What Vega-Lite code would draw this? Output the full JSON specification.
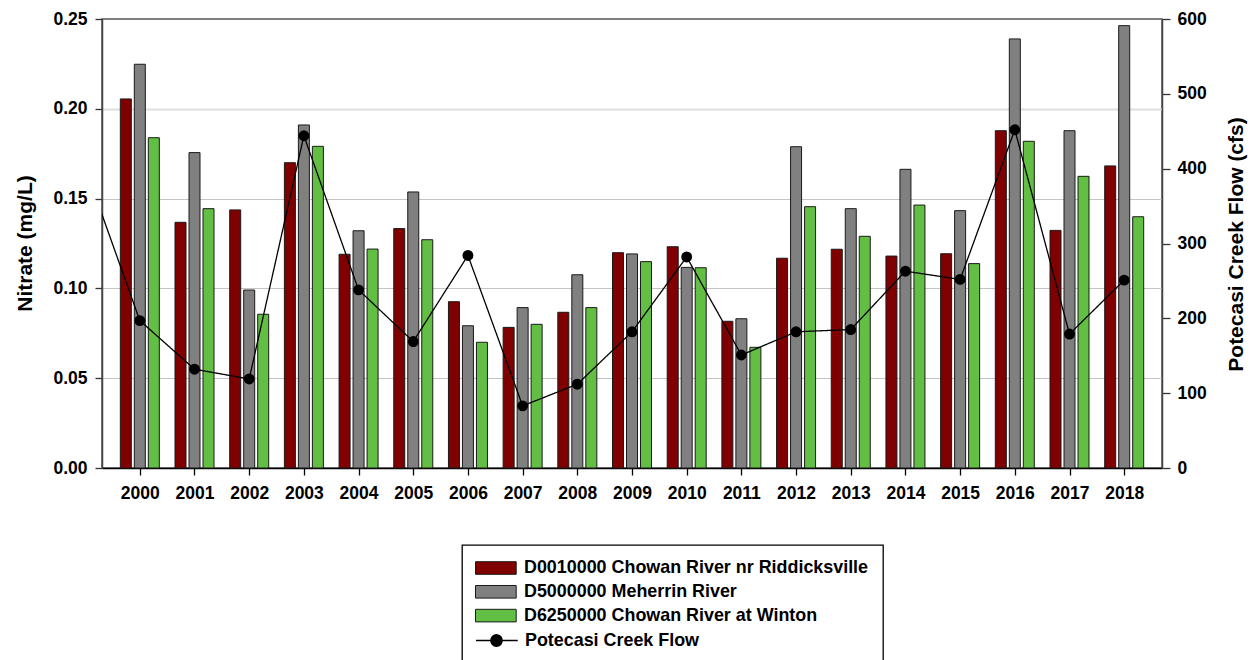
{
  "$schema": "https://vega.github.io/schema/vega-lite/v6.json",
  "width": 1060,
  "height": 449,
  "autosize": {"type": "none"},
  "padding": {"left": 102, "top": 19, "right": 95, "bottom": 192},
  "background": "white",
  "config": {
    "font": "Liberation Sans",
    "view": {"stroke": "#555", "strokeWidth": 1.5},
    "axis": {
      "labelFont": "Liberation Sans", "labelFontWeight": "bold", "labelFontSize": 17.5, "labelColor": "black",
      "titleFont": "Liberation Sans", "titleFontWeight": "bold", "titleFontSize": 21, "titleColor": "black",
      "tickColor": "#333", "domainColor": "#444", "domainWidth": 1.5, "tickWidth": 1.3
    },
    "legend": {
      "orient": "none", "legendX": 360, "padding": 14, "symbolSize": 289, "labelFont": "Liberation Sans",
      "labelFontSize": 17.9, "labelFontWeight": "bold", "labelColor": "black", "rowPadding": 5.8,
      "labelOffset": 30, "labelLimit": 600, "symbolOpacity": 1, "strokeWidth": 1.3
    }
  },
  "data": {"values": [
    {"year": 1999, "flow": 402},
    {"year": 2000, "riddicksville": 0.2055, "meherrin": 0.2248, "winton": 0.1839, "flow": 197},
    {"year": 2001, "riddicksville": 0.1368, "meherrin": 0.1756, "winton": 0.1444, "flow": 132},
    {"year": 2002, "riddicksville": 0.1437, "meherrin": 0.0991, "winton": 0.0856, "flow": 119},
    {"year": 2003, "riddicksville": 0.1700, "meherrin": 0.1910, "winton": 0.1791, "flow": 444},
    {"year": 2004, "riddicksville": 0.1190, "meherrin": 0.1321, "winton": 0.1219, "flow": 238},
    {"year": 2005, "riddicksville": 0.1333, "meherrin": 0.1537, "winton": 0.1271, "flow": 169},
    {"year": 2006, "riddicksville": 0.0926, "meherrin": 0.0792, "winton": 0.0700, "flow": 284},
    {"year": 2007, "riddicksville": 0.0783, "meherrin": 0.0893, "winton": 0.0800, "flow": 83},
    {"year": 2008, "riddicksville": 0.0867, "meherrin": 0.1076, "winton": 0.0893, "flow": 112},
    {"year": 2009, "riddicksville": 0.1199, "meherrin": 0.1192, "winton": 0.1149, "flow": 182},
    {"year": 2010, "riddicksville": 0.1232, "meherrin": 0.1117, "winton": 0.1115, "flow": 282},
    {"year": 2011, "riddicksville": 0.0817, "meherrin": 0.0831, "winton": 0.0672, "flow": 151},
    {"year": 2012, "riddicksville": 0.1168, "meherrin": 0.1789, "winton": 0.1455, "flow": 182},
    {"year": 2013, "riddicksville": 0.1218, "meherrin": 0.1444, "winton": 0.1290, "flow": 185},
    {"year": 2014, "riddicksville": 0.1180, "meherrin": 0.1663, "winton": 0.1464, "flow": 263},
    {"year": 2015, "riddicksville": 0.1193, "meherrin": 0.1433, "winton": 0.1138, "flow": 252},
    {"year": 2016, "riddicksville": 0.1878, "meherrin": 0.2389, "winton": 0.1819, "flow": 452},
    {"year": 2017, "riddicksville": 0.1323, "meherrin": 0.1878, "winton": 0.1624, "flow": 179},
    {"year": 2018, "riddicksville": 0.1682, "meherrin": 0.2463, "winton": 0.1399, "flow": 251}
  ]},
  "encoding": {
    "x": {
      "field": "year", "type": "quantitative",
      "scale": {"domain": [1999.4, 2018.6], "nice": false, "zero": false},
      "axis": {
        "values": [2000, 2001, 2002, 2003, 2004, 2005, 2006, 2007, 2008, 2009, 2010, 2011, 2012, 2013, 2014, 2015, 2016, 2017, 2018],
        "format": "d", "title": null, "grid": false, "tickSize": 7, "labelPadding": 9,
        "domainColor": "black", "tickColor": "black", "labelFlush": false, "labelOverlap": false
      }
    }
  },
  "layer": [
    {
      "layer": [
        {
          "mark": {"type": "bar", "size": 11, "xOffset": -14, "stroke": "#1a1a1a", "strokeWidth": 1},
          "encoding": {
            "y": {
              "field": "riddicksville", "type": "quantitative",
              "scale": {"domain": [0, 0.25], "nice": false},
              "axis": {
                "title": "Nitrate (mg/L)", "values": [0, 0.05, 0.1, 0.15, 0.2, 0.25], "format": ".2f",
                "tickSize": 7, "labelPadding": 8, "grid": true,
                "gridColor": {"condition": {"test": "datum.value === 0.2", "value": "#dedede"}, "value": "#c4c4c4"},
                "gridWidth": {"condition": {"test": "datum.value === 0.2", "value": 2}, "value": 1.2},
                "gridOpacity": {"condition": {"test": "datum.value === 0 || datum.value === 0.25", "value": 0}, "value": 1},
                "titleAngle": 270, "titleBaseline": "middle", "titleX": -77, "titleY": 224
              }
            },
            "color": {
              "datum": "D0010000 Chowan River nr Riddicksville",
              "scale": {
                "domain": ["D0010000 Chowan River nr Riddicksville", "D5000000 Meherrin River", "D6250000 Chowan River at Winton"],
                "range": ["#800000", "#808080", "#63bf43"]
              },
              "legend": {
                "title": " ", "titleOrient": "bottom", "titlePadding": 40, "titleFontSize": 18,
                "legendY": 526, "strokeColor": "black",
                "symbolType": "M-1.118,-0.741H3.67V0.741H-1.118Z", "symbolStrokeColor": "#222222", "symbolStrokeWidth": 1
              }
            }
          }
        },
        {
          "mark": {"type": "bar", "size": 11, "xOffset": 0, "stroke": "#1a1a1a", "strokeWidth": 1},
          "encoding": {
            "y": {
              "field": "meherrin", "type": "quantitative",
              "scale": {"domain": [0, 0.25], "nice": false},
              "axis": {
                "title": "Nitrate (mg/L)", "values": [0, 0.05, 0.1, 0.15, 0.2, 0.25], "format": ".2f",
                "tickSize": 7, "labelPadding": 8, "grid": true,
                "gridColor": {"condition": {"test": "datum.value === 0.2", "value": "#dedede"}, "value": "#c4c4c4"},
                "gridWidth": {"condition": {"test": "datum.value === 0.2", "value": 2}, "value": 1.2},
                "gridOpacity": {"condition": {"test": "datum.value === 0 || datum.value === 0.25", "value": 0}, "value": 1},
                "titleAngle": 270, "titleBaseline": "middle", "titleX": -77, "titleY": 224
              }
            },
            "color": {"datum": "D5000000 Meherrin River"}
          }
        },
        {
          "mark": {"type": "bar", "size": 11, "xOffset": 14, "stroke": "#1a1a1a", "strokeWidth": 1},
          "encoding": {
            "y": {
              "field": "winton", "type": "quantitative",
              "scale": {"domain": [0, 0.25], "nice": false},
              "axis": {
                "title": "Nitrate (mg/L)", "values": [0, 0.05, 0.1, 0.15, 0.2, 0.25], "format": ".2f",
                "tickSize": 7, "labelPadding": 8, "grid": true,
                "gridColor": {"condition": {"test": "datum.value === 0.2", "value": "#dedede"}, "value": "#c4c4c4"},
                "gridWidth": {"condition": {"test": "datum.value === 0.2", "value": 2}, "value": 1.2},
                "gridOpacity": {"condition": {"test": "datum.value === 0 || datum.value === 0.25", "value": 0}, "value": 1},
                "titleAngle": 270, "titleBaseline": "middle", "titleX": -77, "titleY": 224
              }
            },
            "color": {"datum": "D6250000 Chowan River at Winton"}
          }
        }
      ]
    },
    {
      "layer": [
        {
          "mark": {"type": "line", "color": "black", "strokeWidth": 1.3, "clip": true},
          "encoding": {
            "y": {
              "field": "flow", "type": "quantitative",
              "scale": {"domain": [0, 600], "nice": false},
              "axis": {
                "title": "Potecasi Creek Flow (cfs)", "orient": "right", "values": [0, 100, 200, 300, 400, 500, 600],
                "tickSize": 8, "labelPadding": 7, "grid": false,
                "titleAngle": 270, "titleBaseline": "middle", "titleX": 74, "titleY": 225
              }
            },
            "strokeDash": {
              "datum": "Potecasi Creek Flow",
              "scale": {"domain": ["Potecasi Creek Flow"], "range": [[1, 0]]},
              "legend": {
                "title": null, "legendY": 598,
                "symbolType": "M-1.118,0H3.79M1.94,0A0.647,0.647 0 1 1 0.647,0A0.647,0.647 0 1 1 1.94,0Z",
                "symbolFillColor": "black", "symbolStrokeColor": "black", "symbolStrokeWidth": 1.4
              }
            }
          }
        },
        {
          "mark": {"type": "point", "shape": "circle", "filled": true, "color": "black", "stroke": "black", "strokeWidth": 1.4, "size": 90, "opacity": 1, "clip": true},
          "encoding": {
            "y": {
              "field": "flow", "type": "quantitative",
              "scale": {"domain": [0, 600], "nice": false},
              "axis": {
                "title": "Potecasi Creek Flow (cfs)", "orient": "right", "values": [0, 100, 200, 300, 400, 500, 600],
                "tickSize": 8, "labelPadding": 7, "grid": false,
                "titleAngle": 270, "titleBaseline": "middle", "titleX": 74, "titleY": 225
              }
            }
          }
        }
      ]
    }
  ],
  "resolve": {"scale": {"y": "independent"}}
}
